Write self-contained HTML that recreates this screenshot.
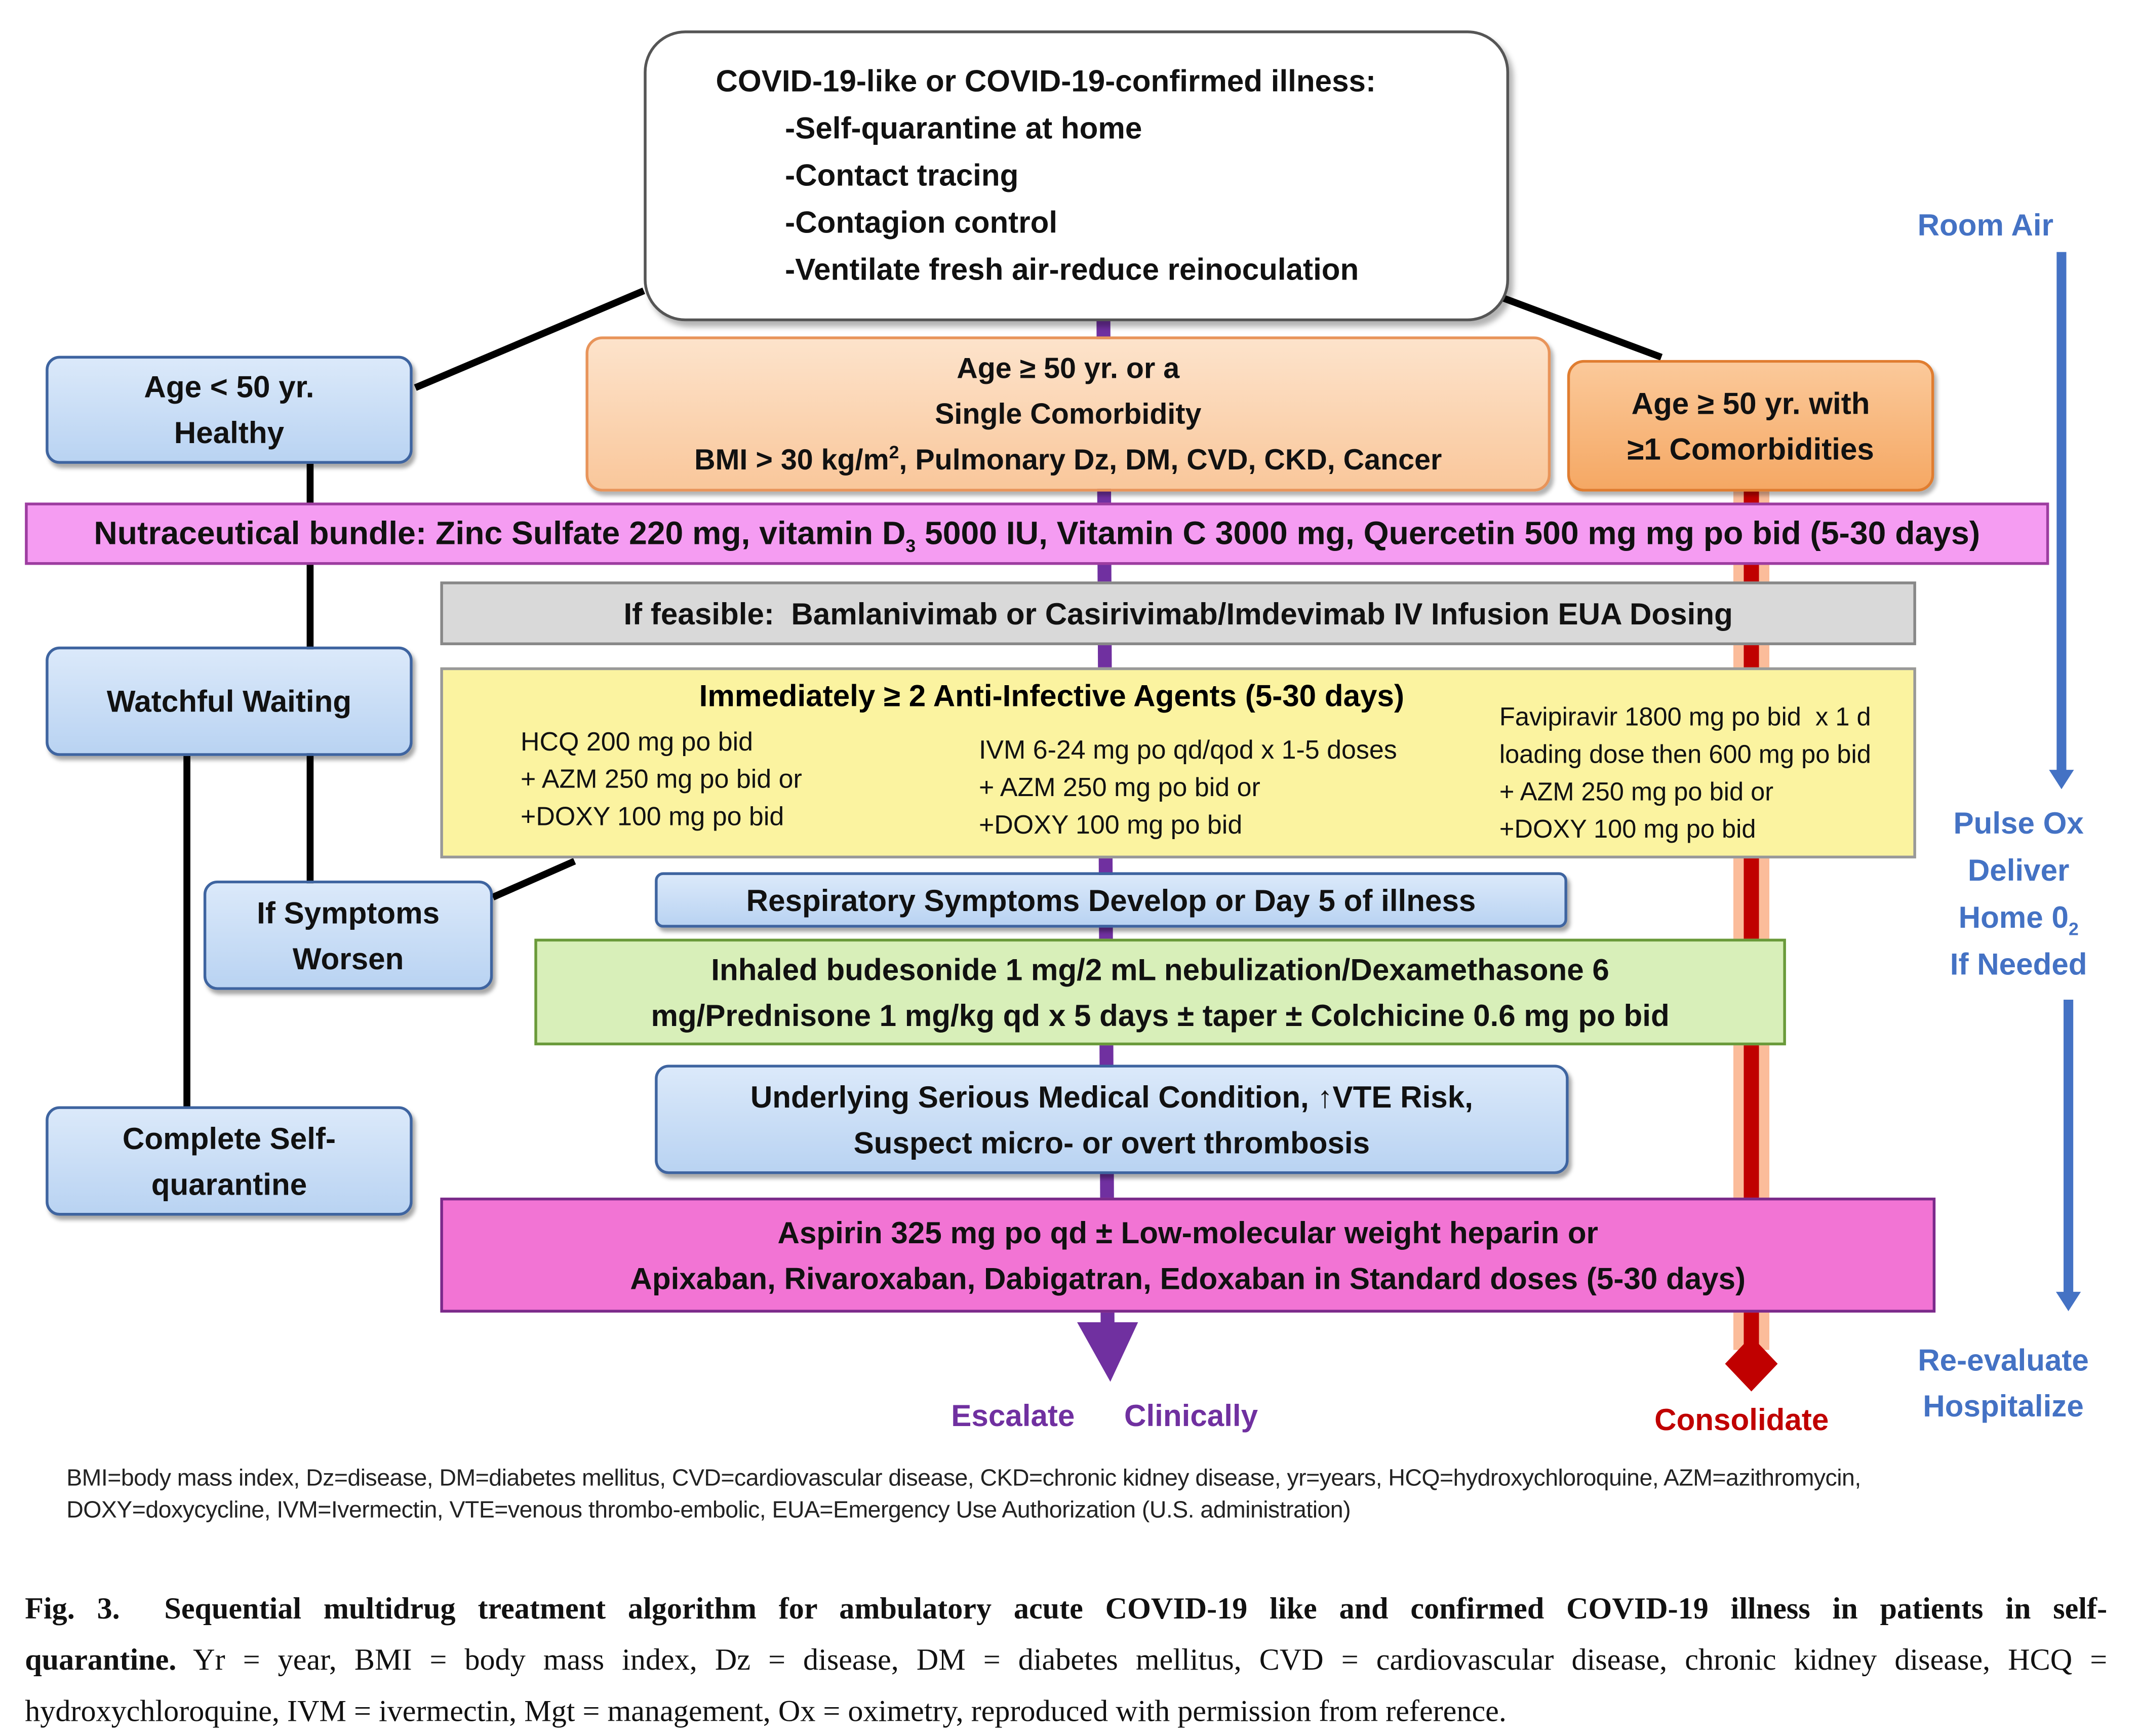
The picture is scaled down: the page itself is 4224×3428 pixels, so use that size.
<!DOCTYPE html>
<html><head><meta charset="utf-8">
<style>
html,body{margin:0;padding:0;background:#fff;}
body{width:4224px;height:3386px;overflow:hidden;position:relative;}
#s{position:absolute;left:0;top:0;width:1545px;height:1239px;transform:scale(2.734);transform-origin:0 0;font-family:"Liberation Sans",sans-serif;}
.b{position:absolute;box-sizing:border-box;display:flex;align-items:center;justify-content:center;text-align:center;font-weight:bold;color:#111;font-size:22px;line-height:33px;}
.b>span{display:block;}
.blue{background:linear-gradient(#dbe9fa,#b9d3f2);border:2px solid #3e64a0;border-radius:10px;box-shadow:2px 3px 3px rgba(0,0,0,.35);}
.t{position:absolute;white-space:nowrap;font-weight:bold;}
.n{position:absolute;white-space:nowrap;font-size:19px;line-height:27px;color:#111;}
sup,sub{font-size:13px;line-height:0;}
.cap{text-align:justify;text-align-last:justify;white-space:nowrap;}
</style></head><body><div id="s">
<svg width="1545" height="1239" style="position:absolute;left:0;top:0">
<line x1="465" y1="210" x2="300" y2="280" stroke="#000" stroke-width="5"/>
<line x1="1085" y1="215" x2="1200" y2="258" stroke="#000" stroke-width="5"/>
<line x1="224" y1="335" x2="224" y2="640" stroke="#000" stroke-width="5"/>
<line x1="135" y1="546" x2="135" y2="800" stroke="#000" stroke-width="5"/>
<line x1="356" y1="648" x2="415" y2="622" stroke="#000" stroke-width="5"/>
<line x1="797" y1="230" x2="800" y2="960" stroke="#7030a0" stroke-width="10"/>
<polygon points="778,955 822,955 802,998" fill="#7030a0"/>
<line x1="1265" y1="355" x2="1265" y2="975" stroke="#f9a070" stroke-width="26" opacity=".7"/>
<line x1="1265" y1="355" x2="1265" y2="975" stroke="#c00000" stroke-width="11"/>
<polygon points="1265,965 1284,985 1265,1005 1246,985" fill="#c00000"/>
<line x1="1489" y1="182" x2="1489" y2="558" stroke="#4472c4" stroke-width="7"/>
<polygon points="1480,556 1498,556 1489,570" fill="#4472c4"/>
<line x1="1494" y1="722" x2="1494" y2="935" stroke="#4472c4" stroke-width="7"/>
<polygon points="1485,933 1503,933 1494,947" fill="#4472c4"/>
</svg>
<div class="b" style="left:465px;top:22px;width:625px;height:210px;border:2px solid #555;border-radius:30px;background:#fff;box-shadow:3px 4px 4px rgba(0,0,0,.3);justify-content:flex-start;padding-left:50px;line-height:34px;font-size:22px;text-align:left">
<span><span style="display:block">COVID-19-like or COVID-19-confirmed illness:</span>
<span style="display:block;padding-left:50px">-Self-quarantine at home<br>-Contact tracing<br>-Contagion control<br>-Ventilate fresh air-reduce reinoculation</span></span></div>
<div class="b blue" style="left:33px;top:257px;width:265px;height:78px"><span>Age &lt; 50 yr.<br>Healthy</span></div>
<div class="b" style="left:423px;top:243px;width:697px;height:112px;background:linear-gradient(#fde3cb,#f9c79b);border:2px solid #e8945a;border-radius:12px;box-shadow:2px 3px 3px rgba(0,0,0,.3);font-size:21px"><span>Age ≥ 50 yr. or a<br>Single Comorbidity<br>BMI &gt; 30 kg/m<sup>2</sup>, Pulmonary Dz, DM, CVD, CKD, Cancer</span></div>
<div class="b" style="left:1132px;top:260px;width:265px;height:95px;background:linear-gradient(#fbc99a,#f5a864);border:2px solid #e07d30;border-radius:12px;box-shadow:2px 3px 3px rgba(0,0,0,.3)"><span>Age ≥ 50 yr. with<br>≥1 Comorbidities</span></div>
<div class="b" style="left:18px;top:363px;width:1462px;height:45px;background:#f59cf2;border:2px solid #9d3da0;font-size:23.5px;white-space:nowrap"><span>Nutraceutical bundle: Zinc Sulfate 220 mg, vitamin D<sub>3</sub> 5000 IU, Vitamin C 3000 mg, Quercetin 500 mg mg po bid (5-30 days)</span></div>
<div class="b" style="left:318px;top:420px;width:1066px;height:46px;background:#d9d9d9;border:2px solid #888;font-size:22px"><span>If feasible:&nbsp; Bamlanivimab or Casirivimab/Imdevimab IV Infusion EUA Dosing</span></div>
<div class="b blue" style="left:33px;top:467px;width:265px;height:79px"><span>Watchful Waiting</span></div>
<div class="b" style="left:318px;top:482px;width:1066px;height:138px;background:#fbf3a0;border:2px solid #999"></div>
<div class="t" style="left:505px;top:488px;font-size:22px;line-height:30px">Immediately ≥ 2 Anti-Infective Agents (5-30 days)</div>
<div class="n" style="left:376px;top:523px">HCQ 200 mg po bid<br>+ AZM 250 mg po bid or<br>+DOXY 100 mg po bid</div>
<div class="n" style="left:707px;top:529px">IVM 6-24 mg po qd/qod x 1-5 doses<br>+ AZM 250 mg po bid or<br>+DOXY 100 mg po bid</div>
<div class="n" style="left:1083px;top:504px;font-size:18.5px">Favipiravir 1800 mg po bid&nbsp; x 1 d<br>loading dose then 600 mg po bid<br>+ AZM 250 mg po bid or<br>+DOXY 100 mg po bid</div>
<div class="b blue" style="left:147px;top:636px;width:209px;height:79px"><span>If Symptoms<br>Worsen</span></div>
<div class="b blue" style="left:473px;top:630px;width:659px;height:40px;border-radius:6px"><span>Respiratory Symptoms Develop or Day 5 of illness</span></div>
<div class="b" style="left:386px;top:678px;width:904px;height:77px;background:#d8efb9;border:2px solid #6a9a3a"><span>Inhaled budesonide 1 mg/2 mL nebulization/Dexamethasone 6<br>mg/Prednisone 1 mg/kg qd x 5 days ± taper ± Colchicine 0.6 mg po bid</span></div>
<div class="b blue" style="left:473px;top:769px;width:660px;height:79px"><span>Underlying Serious Medical Condition, ↑VTE Risk,<br>Suspect micro- or overt thrombosis</span></div>
<div class="b blue" style="left:33px;top:799px;width:265px;height:79px"><span>Complete Self-<br>quarantine</span></div>
<div class="b" style="left:318px;top:865px;width:1080px;height:83px;background:#f274d4;border:2px solid #7a2a8a"><span>Aspirin 325 mg po qd ± Low-molecular weight heparin or<br>Apixaban, Rivaroxaban, Dabigatran, Edoxaban in Standard doses (5-30 days)</span></div>
<div class="t" style="left:1385px;top:150px;color:#4472c4;font-size:22px">Room Air</div>
<div class="t" style="left:1395px;top:578px;color:#4472c4;font-size:22px;text-align:center;line-height:34px;width:126px;white-space:normal">Pulse Ox<br>Deliver<br>Home 0<sub>2</sub><br>If Needed</div>
<div class="t" style="left:1376px;top:966px;color:#4472c4;font-size:22px;text-align:center;line-height:33px;width:142px">Re-evaluate<br>Hospitalize</div>
<div class="t" style="left:687px;top:1010px;color:#7030a0;font-size:22px">Escalate</div>
<div class="t" style="left:812px;top:1010px;color:#7030a0;font-size:22px">Clinically</div>
<div class="t" style="left:1195px;top:1013px;color:#c00000;font-size:22px">Consolidate</div>
<div style="position:absolute;left:48px;top:1056px;font-size:17px;line-height:23px;color:#222;letter-spacing:-0.2px;white-space:nowrap">BMI=body mass index, Dz=disease, DM=diabetes mellitus, CVD=cardiovascular disease, CKD=chronic kidney disease, yr=years, HCQ=hydroxychloroquine, AZM=azithromycin,<br>DOXY=doxycycline, IVM=Ivermectin, VTE=venous thrombo-embolic, EUA=Emergency Use Authorization (U.S. administration)</div>
<div style="position:absolute;left:18px;top:1143px;width:1504px;font-family:'Liberation Serif',serif;font-size:22px;line-height:37px;color:#111">
<div class="cap"><b>Fig. 3.&nbsp; Sequential multidrug treatment algorithm for ambulatory acute COVID-19 like and confirmed COVID-19 illness in patients in self-</b></div>
<div class="cap"><b>quarantine.</b> Yr = year, BMI = body mass index, Dz = disease, DM = diabetes mellitus, CVD = cardiovascular disease, chronic kidney disease, HCQ =</div>
<div>hydroxychloroquine, IVM = ivermectin, Mgt = management, Ox = oximetry, reproduced with permission from reference.</div>
</div>
</div></body></html>
